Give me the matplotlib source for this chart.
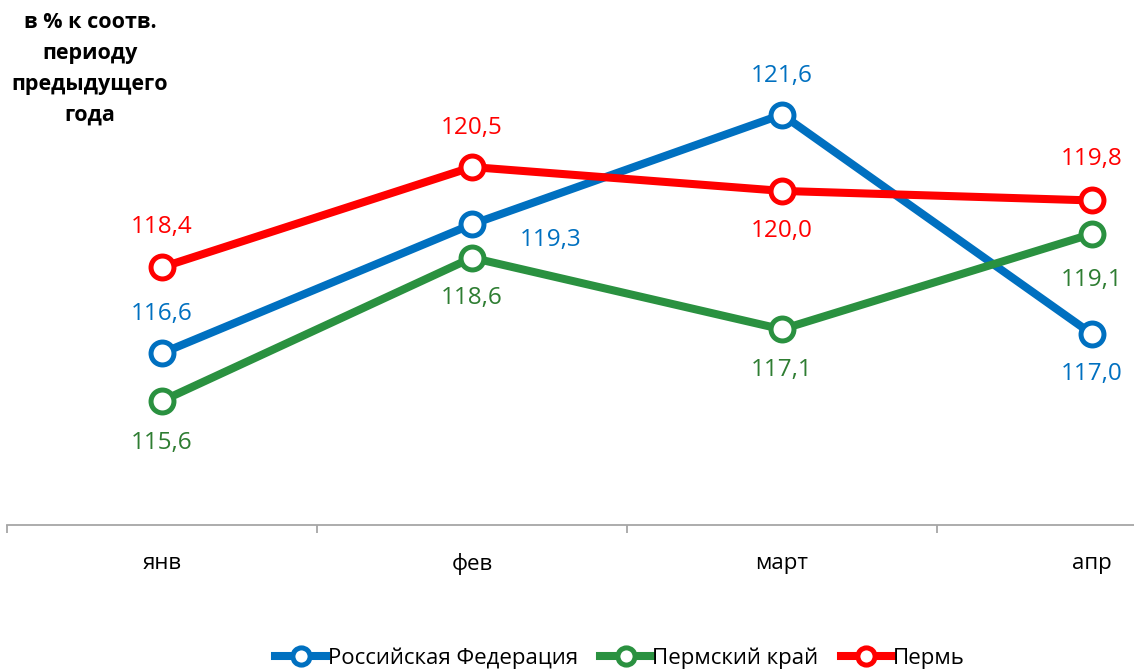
# Динамика индекса, % к соотв. периоду предыдущего года

import numpy as np
import matplotlib.pyplot as plt

months = ["янв", "фев", "март", "апр"]
rf = [116.6, 119.3, 121.6, 117.0]
perm_krai = [115.6, 118.6, 117.1, 119.1]
perm = [118.4, 120.5, 120.0, 119.8]

series_names = ["Российская Федерация", "Пермский край", "Пермь"]
line_colors = ["#0070C0", "#2A9140", "#FF0000"]
text_colors = ["#0070C0", "#2E7D32", "#FF0000"]

# label offsets in points (dx, dy) for each series/month
offsets = [
    [(0, 28), (57, -11), (0, 28), (0, -29)],
    [(0, -30), (0, -29), (0, -29), (0, -33)],
    [(0, 29), (0, 28), (0, -29), (0, 30)],
]

plt.rcParams['font.family'] = ['Open Sans', 'DejaVu Sans']

fig = plt.figure(figsize=(11.34, 6.71), dpi=100)
ax = fig.add_axes([7 / 1134, 146 / 671, 1127 / 1134, 525 / 671])

x = np.arange(len(months))
handles = []
for vals, name, lc, tc, offs in zip([rf, perm_krai, perm], series_names,
                                    line_colors, text_colors, offsets):
    h, = ax.plot(x, vals, color=lc, lw=5.8, marker="o", ms=16.5,
                 mfc="white", mec=lc, mew=3.6, label=name, zorder=3)
    handles.append(h)
    for xi, v, (dx, dy) in zip(x, vals, offs):
        ax.annotate(f"{v:.1f}".replace(".", ","), (xi, v), xytext=(dx, dy),
                    textcoords="offset points", ha="center", va="center",
                    color=tc, fontsize=17.5)

ax.set_xlim(-0.5, 3 + 42 / 310)
ax.set_ylim(113, 124)

for s in ["top", "left", "right"]:
    ax.spines[s].set_visible(False)
ax.spines["bottom"].set_color("#A6A6A6")
ax.spines["bottom"].set_linewidth(1.3)

ax.set_yticks([])
ax.set_xticks(x)
ax.set_xticklabels(months, fontsize=16)
ax.tick_params(axis="x", which="major", length=0, pad=20)
ax.set_xticks([-0.5, 0.5, 1.5, 2.5], minor=True)
ax.tick_params(axis="x", which="minor", length=6, width=1.3, color="#A6A6A6")

fig.text(90 / 1134, 1 - 69 / 671, "в % к соотв.\nпериоду\nпредыдущего\nгода",
         ha="center", va="center", fontsize=15.5, fontweight="bold",
         linespacing=1.62)

fig.legend(handles=handles, loc="center", bbox_to_anchor=(620 / 1134, 1 - 658 / 671),
           ncol=3, frameon=False, handlelength=2.3,
           handletextpad=0.05, columnspacing=1.0, markerscale=0.75,
           prop={"family": ["Open Sans", "DejaVu Sans"], "size": 16})

fig.savefig("out.png", dpi=100)
